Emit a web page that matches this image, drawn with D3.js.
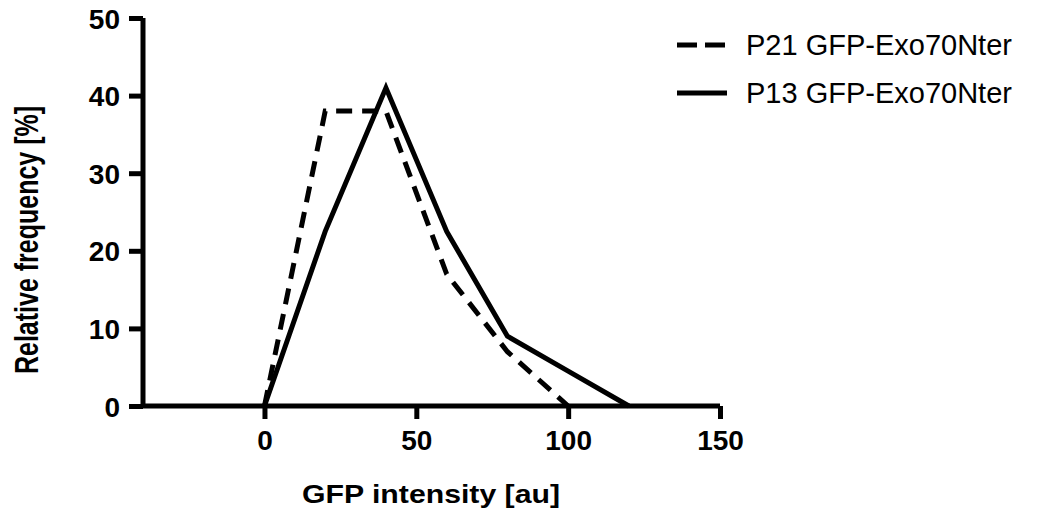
<!DOCTYPE html>
<html>
<head>
<meta charset="utf-8">
<script src="https://cdn.jsdelivr.net/npm/d3@7"></script>
<style>
  body { margin: 0; background: #fff; }
  text { font-family: "Liberation Sans", Arial, sans-serif; }
</style>
</head>
<body>
<div id="chart"></div>
<script>
var svgWidth = 1039;
var svgHeight = 518;

// data
var intensity = [0, 20, 40, 60, 80, 100, 120];
var p21Values = [0, 38, 38, 17, 7, 0];
var p13Values = [0, 22.5, 41, 22.5, 9, 4.5, 0];
var seriesNames = ["P21 GFP-Exo70Nter", "P13 GFP-Exo70Nter"];
var xTicks = [0, 50, 100, 150];
var yTicks = [0, 10, 20, 30, 40, 50];

var x = d3.scaleLinear().domain([-40, 150]).range([143, 720]);
var y = d3.scaleLinear().domain([0, 50]).range([406, 18]);

var svg = d3.select("#chart")
  .append("svg")
  .attr("width", svgWidth)
  .attr("height", svgHeight);

var line = d3.line()
  .x(function(d) { return x(d.x); })
  .y(function(d) { return y(d.y); });

function toPoints(vals) {
  return vals.map(function(v, i) { return { x: intensity[i], y: v }; });
}

// axes
var xAxis = d3.axisBottom(x).tickValues(xTicks).tickSize(13).tickPadding(11);
var yAxis = d3.axisLeft(y).tickValues(yTicks).tickSize(14).tickPadding(9);

var gx = svg.append("g")
  .attr("transform", "translate(0," + y(0) + ")")
  .call(xAxis);
var gy = svg.append("g")
  .attr("transform", "translate(" + x(-40) + ",0)")
  .call(yAxis);

[gx, gy].forEach(function(g) {
  g.select(".domain").attr("stroke", "#000").attr("stroke-width", 5)
    .attr("d", g === gx ? "M" + x(-40) + ",0H" + x(150) : "M0," + y(0) + "V" + y(50));
  g.selectAll(".tick line").attr("stroke", "#000").attr("stroke-width", 5);
  g.selectAll(".tick text")
    .attr("fill", "#000")
    .style("font-size", "28px")
    .style("font-weight", "bold");
});
gy.selectAll(".tick text").attr("dy", "0.36em");

// series lines
svg.append("path")
  .datum(toPoints(p21Values))
  .attr("d", line)
  .attr("fill", "none")
  .attr("stroke", "#000")
  .attr("stroke-width", 5)
  .attr("stroke-dasharray", "16,10")
  .attr("stroke-linejoin", "miter");

svg.append("path")
  .datum(toPoints(p13Values))
  .attr("d", line)
  .attr("fill", "none")
  .attr("stroke", "#000")
  .attr("stroke-width", 5)
  .attr("stroke-linejoin", "miter");

// axis titles
svg.append("text")
  .attr("x", 302)
  .attr("y", 503)
  .attr("textLength", 258)
  .attr("lengthAdjust", "spacingAndGlyphs")
  .style("font-size", "25px")
  .style("font-weight", "bold")
  .text("GFP intensity [au]");

svg.append("text")
  .attr("transform", "translate(38,240) scale(1.35,1) rotate(-90)")
  .attr("text-anchor", "middle")
  .style("font-size", "25px")
  .style("font-weight", "bold")
  .text("Relative frequency [%]");

// legend
var legend = svg.append("g").attr("transform", "translate(677,45)");
seriesNames.forEach(function(name, i) {
  var row = legend.append("g").attr("transform", "translate(0," + (i * 48) + ")");
  row.append("line")
    .attr("x1", 0).attr("x2", 50)
    .attr("stroke", "#000")
    .attr("stroke-width", 5)
    .attr("stroke-dasharray", i === 0 ? "20,8" : null);
  row.append("text")
    .attr("x", 69)
    .attr("dy", "0.36em")
    .style("font-size", "29px")
    .text(name);
});
</script>
</body>
</html>
